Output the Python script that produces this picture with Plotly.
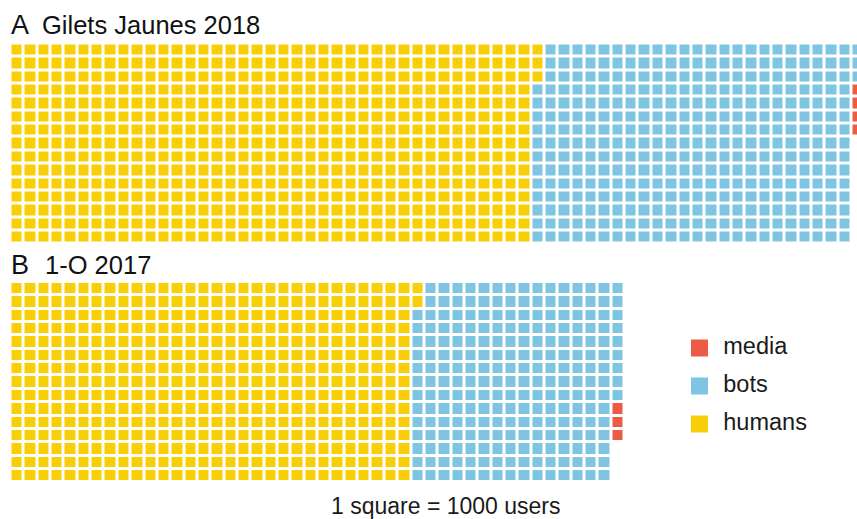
import plotly.graph_objects as go

# ---- data ----
categories = ["humans", "bots", "media"]
colors = ["#F8CE06", "#7EC4E3", "#EC5B43"]
panel_letters = ["A", "B"]
panel_titles = ["Gilets Jaunes 2018", "1-O 2017"]
counts_A = [588, 360, 4]   # humans, bots, media (thousands of users)
counts_B = [452, 232, 3]
n_rows = 15
n_cols_B = 46
legend_order = ["media", "bots", "humans"]
caption = "1 square = 1000 users"

W, H = 857, 519
PITCH = 13.35
GAP = 3
FONT = "Liberation Sans, Arial, sans-serif"


def waffle_grid(counts, n_rows, n_cols):
    z = [[None] * n_cols for _ in range(n_rows)]
    k = 0
    for ci, c in enumerate(counts):
        for _ in range(c):
            col, row = divmod(k, n_rows)
            if col < n_cols:
                z[row][col] = ci
            k += 1
    return z


n_cols_A = -(-sum(counts_A) // n_rows)
zA = waffle_grid(counts_A, n_rows, n_cols_A)
zB = waffle_grid(counts_B, n_rows, n_cols_B)

cs = []
nc = len(colors)
for i, c in enumerate(colors):
    cs.append([i / nc, c])
    cs.append([(i + 1) / nc, c])

fig = go.Figure()
for z, ax in [(zA, ""), (zB, "2")]:
    fig.add_trace(go.Heatmap(
        z=z, x=list(range(len(z[0]))), y=list(range(n_rows)),
        colorscale=cs, zmin=-0.5, zmax=nc - 0.5, showscale=False,
        xgap=GAP, ygap=GAP, hoverinfo="skip",
        xaxis="x" + ax, yaxis="y" + ax))

# legend as its own small axis
leg_y = list(range(len(legend_order)))
leg_cols = [colors[categories.index(c)] for c in legend_order]
fig.add_trace(go.Scatter(
    x=[0] * len(legend_order), y=leg_y, mode="markers",
    marker=dict(symbol="square", size=17, color=leg_cols, line=dict(width=0)),
    xaxis="x3", yaxis="y3", hoverinfo="skip", showlegend=False))
fig.add_trace(go.Scatter(
    x=[1] * len(legend_order), y=leg_y, mode="text", text=legend_order,
    textposition="middle right", textfont=dict(family=FONT, size=23.5, color="#1a1a1a"),
    xaxis="x3", yaxis="y3", hoverinfo="skip", showlegend=False))

x0px = 10.5
topA = 43.5
topB = 282.0
hgt = n_rows * PITCH


def py(px):
    return 1 - px / H


axis_off = dict(visible=False, showgrid=False, zeroline=False, fixedrange=True)
fig.update_layout(
    width=W, height=H, margin=dict(l=0, r=0, t=0, b=0),
    paper_bgcolor="white", plot_bgcolor="white", showlegend=False,
    xaxis=dict(domain=[x0px / W, 1], range=[-0.5, -0.5 + (W - x0px) / PITCH], **axis_off),
    yaxis=dict(domain=[py(topA + hgt), py(topA)], range=[n_rows - 0.5, -0.5], **axis_off),
    xaxis2=dict(domain=[x0px / W, (x0px + n_cols_B * PITCH) / W], range=[-0.5, n_cols_B - 0.5], **axis_off),
    yaxis2=dict(domain=[py(topB + hgt), py(topB)], range=[n_rows - 0.5, -0.5], **axis_off),
    xaxis3=dict(domain=[691 / W, 857 / W], range=[-0.5, 166 / 17 - 0.5], **axis_off),
    yaxis3=dict(domain=[py(443), py(329)], range=[2.5, -0.5], **axis_off),
)

fig.update_traces(selector=dict(mode="text"), x=[(725 - 691) / 17 - 0.5 - 0.1] * 3)

ann = []
for i, (letter, title) in enumerate(zip(panel_letters, panel_titles)):
    yc = [25, 265][i]
    ann.append(dict(text=letter, x=9 / W, y=py(yc), xref="paper", yref="paper",
                    xanchor="left", yanchor="middle", showarrow=False,
                    font=dict(family=FONT, size=27, color="#111")))
    ann.append(dict(text=title, x=[40, 43][i] / W, y=py(yc), xref="paper", yref="paper",
                    xanchor="left", yanchor="middle", showarrow=False,
                    font=dict(family=FONT, size=25.5, color="#111")))
ann.append(dict(text=caption, x=446 / W, y=py(506), xref="paper", yref="paper",
                xanchor="center", yanchor="middle", showarrow=False,
                font=dict(family=FONT, size=23, color="#1a1a1a")))
fig.update_layout(annotations=ann)

fig.write_html("out.html", config={"displayModeBar": False},
               post_script="document.body.style.margin='0';document.body.style.overflow='hidden';")
